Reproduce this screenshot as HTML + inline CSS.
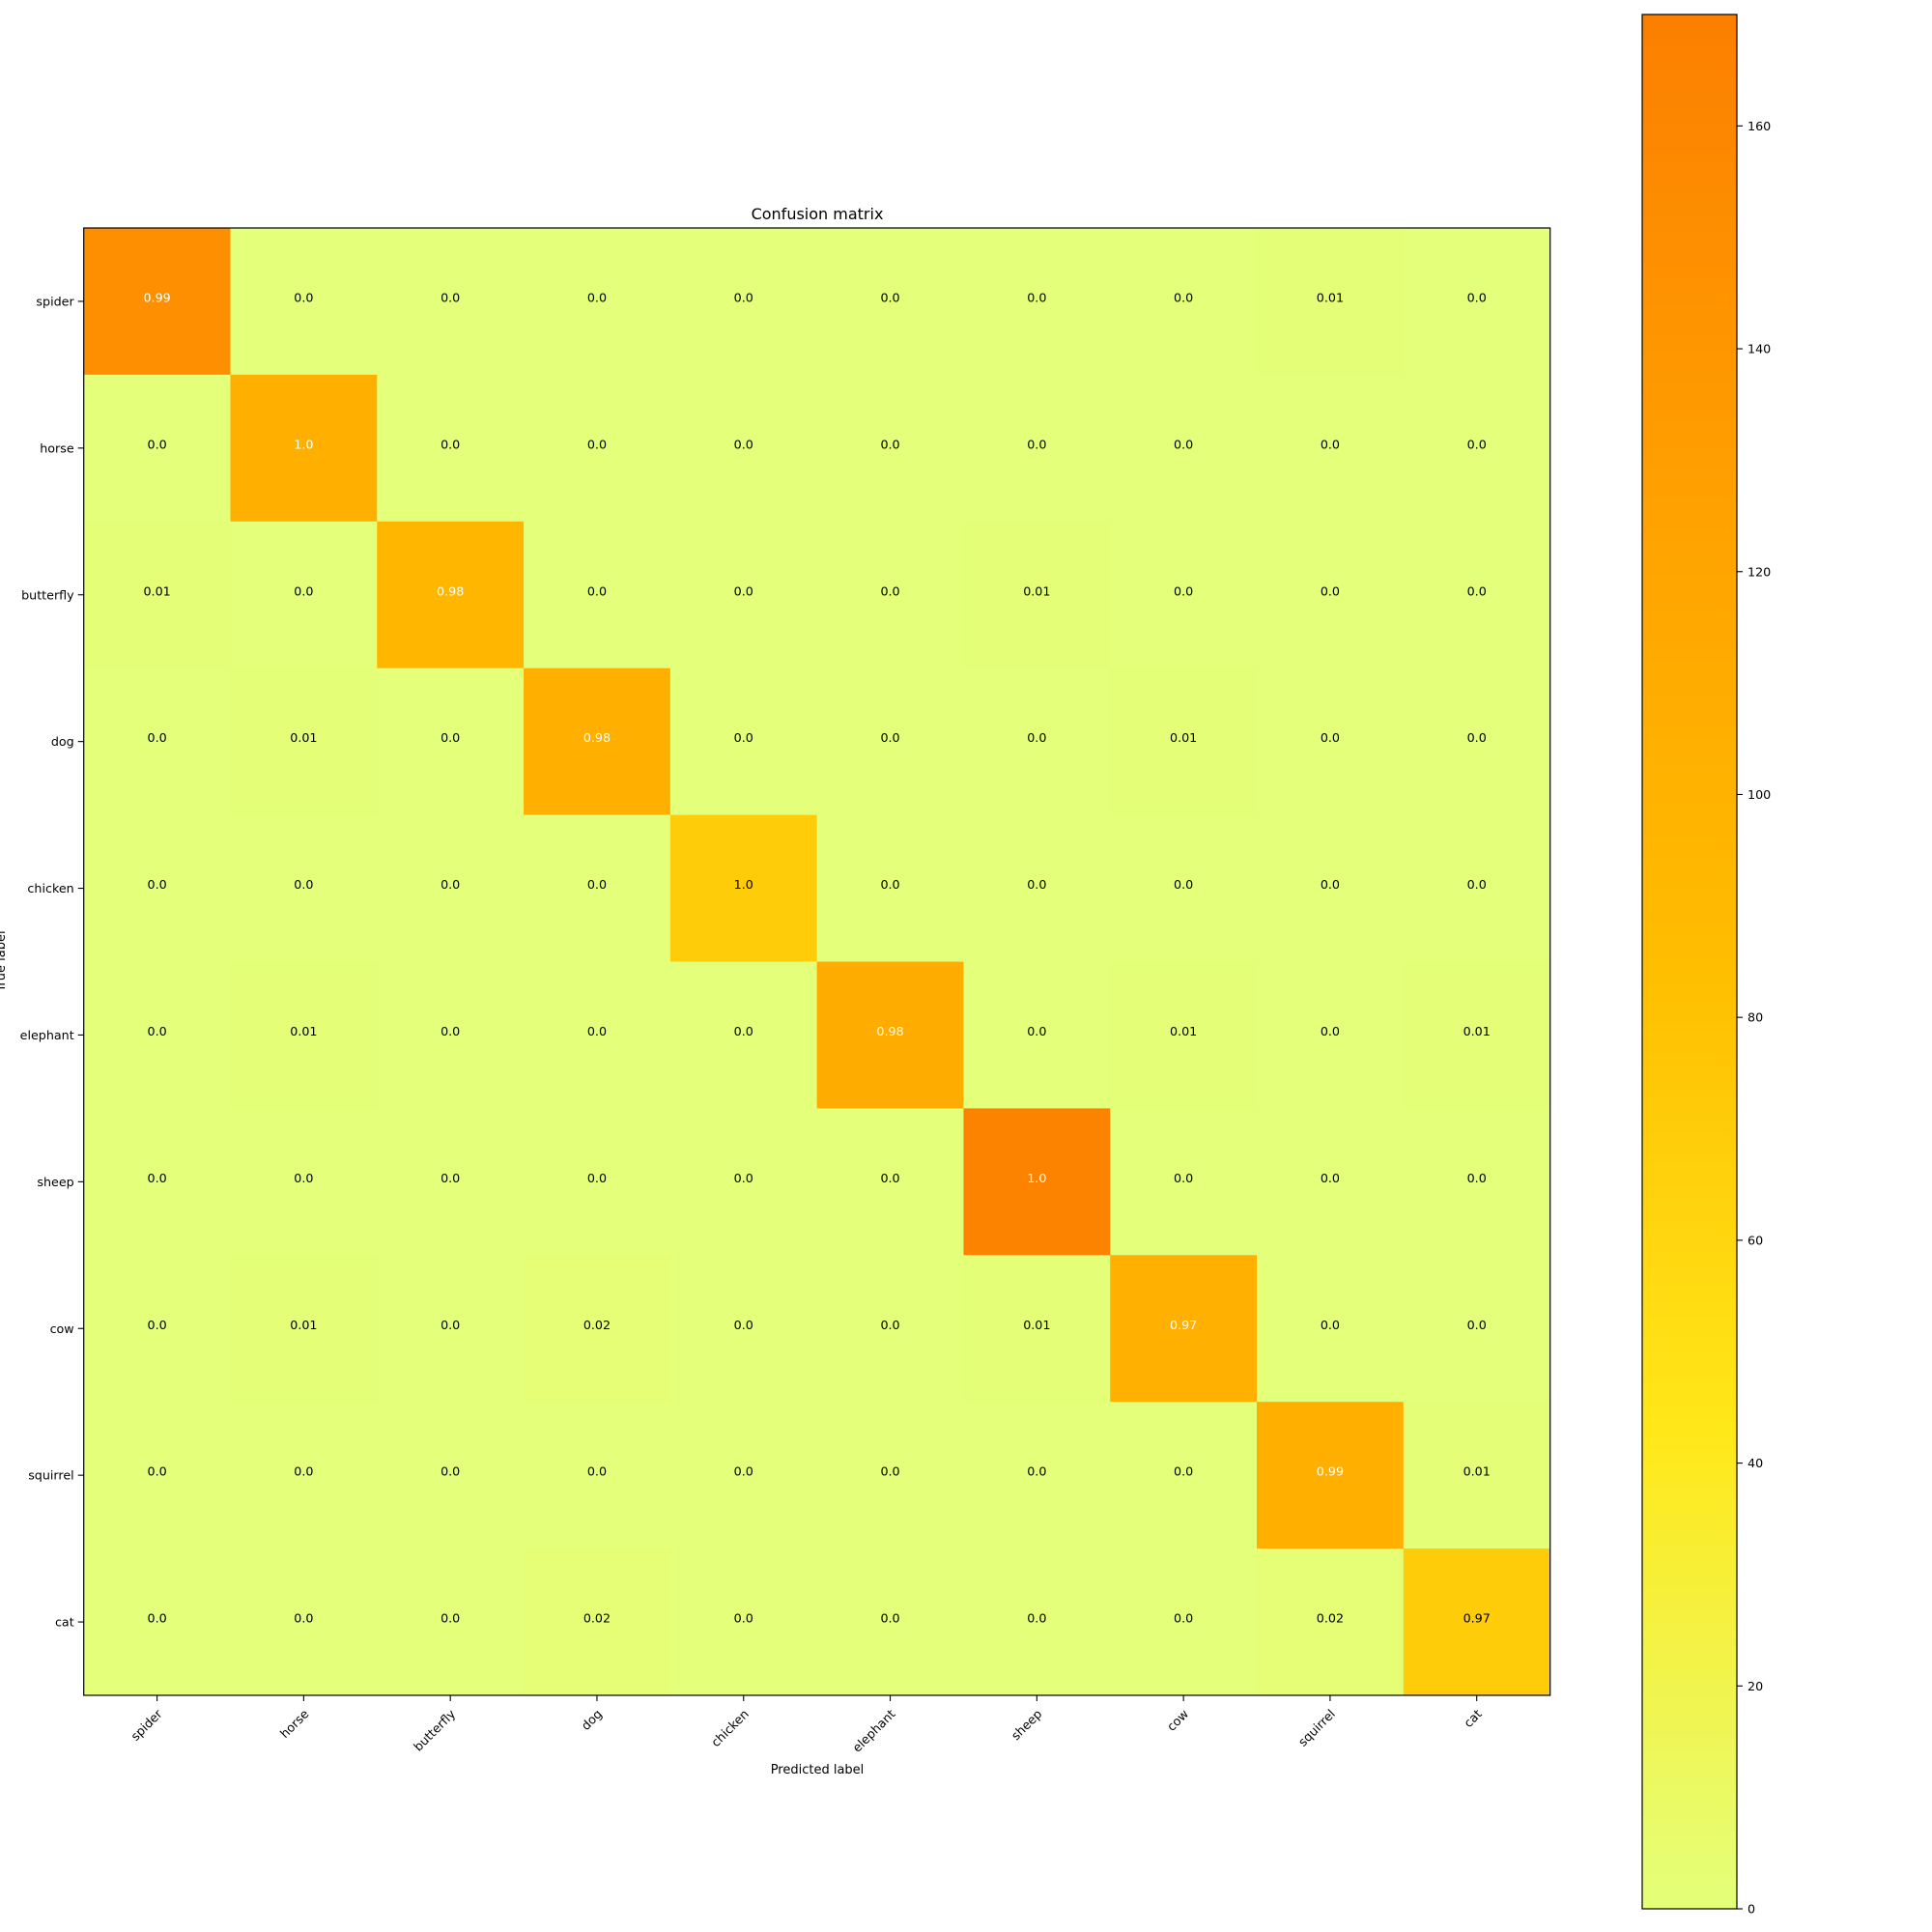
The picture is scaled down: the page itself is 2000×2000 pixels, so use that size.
<!DOCTYPE html>
<html><head><meta charset="utf-8"><style>
html,body{margin:0;padding:0;background:#fff;}
svg{display:block;font-family:"DejaVu Sans","Liberation Sans",sans-serif;}
</style></head><body>
<svg id="chart" width="2000" height="2000" viewBox="0 0 2000 2000" xmlns="http://www.w3.org/2000/svg">
<defs>
<linearGradient id="cbgrad" x1="0" y1="1" x2="0" y2="0">
<stop offset="0" stop-color="#e4ff7a"/><stop offset="0.25" stop-color="#ffe81a"/><stop offset="0.5" stop-color="#ffbd00"/><stop offset="0.75" stop-color="#ffa000"/><stop offset="1" stop-color="#fc7f00"/>
</linearGradient>
</defs>
<g id="cells"></g>
<g id="annots"></g>
<rect x="86.7" y="236" width="1518" height="1519" fill="none" stroke="#000" stroke-width="1.2"/>
<text x="846" y="227" font-size="16" text-anchor="middle">Confusion matrix</text>
<g id="xticks"></g>
<g id="yticks"></g>
<text x="846" y="1836" font-size="13" text-anchor="middle">Predicted label</text>
<text transform="translate(5,995) rotate(-90)" font-size="13" text-anchor="middle">True label</text>
<rect x="1700" y="15" width="98" height="1961" fill="url(#cbgrad)" stroke="#000" stroke-width="1.2"/>
<g id="cbticks"></g>
</svg>
<script>
const classes = ["spider","horse","butterfly","dog","chicken","elephant","sheep","cow","squirrel","cat"];
const counts = [
 [150,0,0,0,0,0,0,0,1,0],
 [0,105,0,0,0,0,0,0,0,0],
 [1,0,95,0,0,0,1,0,0,0],
 [0,1,0,105,0,0,0,1,0,0],
 [0,0,0,0,70,0,0,0,0,0],
 [0,1,0,0,0,110,0,1,0,1],
 [0,0,0,0,0,0,165,0,0,0],
 [0,1,0,2,0,0,1,104,0,0],
 [0,0,0,0,0,0,0,0,105,1],
 [0,0,0,2,0,0,0,0,2,70]
];
const printed = [
 ["0.99","0.0","0.0","0.0","0.0","0.0","0.0","0.0","0.01","0.0"],
 ["0.0","1.0","0.0","0.0","0.0","0.0","0.0","0.0","0.0","0.0"],
 ["0.01","0.0","0.98","0.0","0.0","0.0","0.01","0.0","0.0","0.0"],
 ["0.0","0.01","0.0","0.98","0.0","0.0","0.0","0.01","0.0","0.0"],
 ["0.0","0.0","0.0","0.0","1.0","0.0","0.0","0.0","0.0","0.0"],
 ["0.0","0.01","0.0","0.0","0.0","0.98","0.0","0.01","0.0","0.01"],
 ["0.0","0.0","0.0","0.0","0.0","0.0","1.0","0.0","0.0","0.0"],
 ["0.0","0.01","0.0","0.02","0.0","0.0","0.01","0.97","0.0","0.0"],
 ["0.0","0.0","0.0","0.0","0.0","0.0","0.0","0.0","0.99","0.01"],
 ["0.0","0.0","0.0","0.02","0.0","0.0","0.0","0.0","0.02","0.97"]
];
const cbTicks = [0,20,40,60,80,100,120,140,160];
const cbMax = 170;

const NS="http://www.w3.org/2000/svg";
const X0=86.7,X1=1604.6,Y0=236,Y1=1755;
const n=classes.length;
const cw=(X1-X0)/n, ch=(Y1-Y0)/n;
const xPos=j=>X0+j*cw, yPos=i=>Y0+i*ch;
const CB_TOP=15,CB_BOT=1976;
const cbY=v=>CB_BOT-(v/cbMax)*(CB_BOT-CB_TOP);
const stops=[[0,[228,255,122]],[0.25,[255,232,26]],[0.5,[255,189,0]],[0.75,[255,160,0]],[1,[252,127,0]]];
function cmap(t){t=Math.max(0,Math.min(1,t));for(let k=0;k<stops.length-1;k++){const a=stops[k],b=stops[k+1];if(t<=b[0]){const f=(t-a[0])/(b[0]-a[0]);return "rgb("+a[1].map((c,i)=>Math.round(c+(b[1][i]-c)*f)).join(",")+")";}}return "rgb(252,127,0)";}
function mk(tag,attrs,parent){const e=document.createElementNS(NS,tag);for(const k in attrs)e.setAttribute(k,attrs[k]);parent.appendChild(e);return e;}
const cells=document.getElementById('cells'),ann=document.getElementById('annots');
const vmax=Math.max(...counts.flat());
for(let i=0;i<n;i++)for(let j=0;j<n;j++){
 const r=mk('rect',{x:xPos(j),y:yPos(i),width:cw+0.5,height:ch+0.5,fill:cmap(counts[i][j]/cbMax)},cells);
 
 
 const t=mk('text',{x:xPos(j)+cw/2,y:yPos(i)+ch/2+0.5,'font-size':12.7,'text-anchor':'middle',fill:counts[i][j]>vmax/2?'#fff':'#000'},ann);
 t.textContent=printed[i][j];
 
 
}
const xt=document.getElementById('xticks'),yt=document.getElementById('yticks');
classes.forEach((c,j)=>{
 const x=xPos(j)+cw/2;
 mk('line',{x1:x,y1:Y1,x2:x,y2:Y1+6,stroke:'#000','stroke-width':1.1},xt);
 const t=mk('text',{transform:`translate(${x+6},${Y1+20}) rotate(-45)`,'font-size':12.7,'text-anchor':'end'},xt);
 t.textContent=c;
 
 
 const y=yPos(j)+ch/2;
 mk('line',{x1:X0-6,y1:y,x2:X0,y2:y,stroke:'#000','stroke-width':1.1},yt);
 const u=mk('text',{x:X0-10,y:y+4.5,'font-size':12.7,'text-anchor':'end'},yt);
 u.textContent=c;
 
 
});
const cbt=document.getElementById('cbticks');
cbTicks.forEach(v=>{
 const y=cbY(v);
 mk('line',{x1:1798,y1:y,x2:1804,y2:y,stroke:'#000','stroke-width':1.1},cbt);
 const t=mk('text',{x:1809,y:y+4.5,'font-size':12.7},cbt);
 t.textContent=v;
 
 
});
</script>
</body></html>
